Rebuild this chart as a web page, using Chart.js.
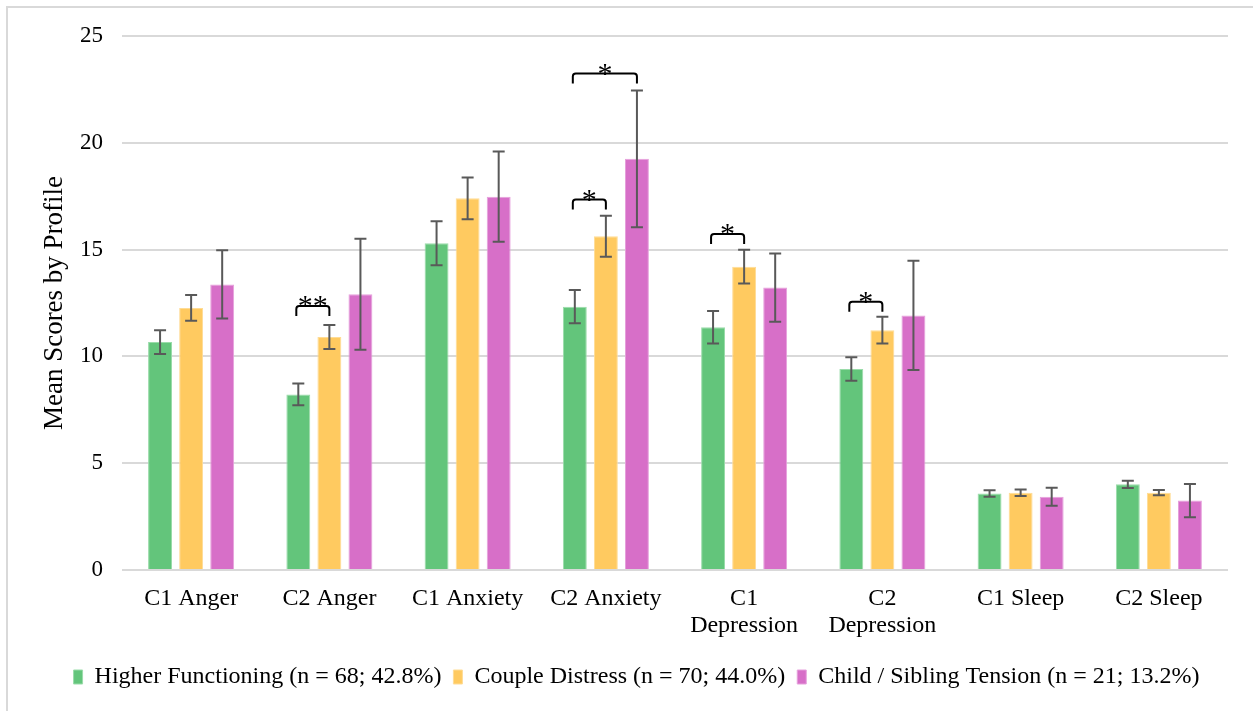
<!DOCTYPE html>
<html>
<head>
<meta charset="utf-8">
<script src="https://cdn.jsdelivr.net/npm/chart.js@4.4.1/dist/chart.umd.min.js"></script>
<style>
  html, body { margin: 0; padding: 0; background: #ffffff; }
  #wrap { position: relative; width: 1253px; height: 711px; }
</style>
</head>
<body>
<div id="wrap"><canvas id="c" width="1253" height="711"></canvas></div>
<script>
// Outcome measures (categories)
const categories = [
  'C1 Anger', 'C2 Anger', 'C1 Anxiety', 'C2 Anxiety',
  ['C1', 'Depression'], ['C2', 'Depression'], 'C1 Sleep', 'C2 Sleep'
];

// Profile means and error bar half-widths
const higherFunctioning    = [10.67, 8.22, 15.30, 12.33, 11.36, 9.41, 3.58, 4.01];
const higherFunctioningErr = [0.56, 0.51, 1.03, 0.78, 0.76, 0.55, 0.15, 0.17];
const coupleDistress       = [12.27, 10.91, 17.40, 15.63, 14.20, 11.23, 3.62, 3.62];
const coupleDistressErr    = [0.60, 0.56, 0.98, 0.96, 0.79, 0.63, 0.15, 0.12];
const childSibling         = [13.37, 12.91, 17.48, 19.25, 13.22, 11.92, 3.43, 3.25];
const childSiblingErr      = [1.60, 2.60, 2.11, 3.20, 1.60, 2.56, 0.42, 0.78];

const seriesNames = [
  'Higher Functioning (n = 68; 42.8%)',
  'Couple Distress (n = 70; 44.0%)',
  'Child / Sibling Tension (n = 21; 13.2%)'
];

// Y axis ticks
const yTicks = [0, 5, 10, 15, 20, 25];

// Significance brackets: category index, first / second series index, bracket height (score units), marker
const sigCategory = [1, 3, 3, 4, 5];
const sigFrom     = [0, 0, 0, 0, 0];
const sigTo       = [1, 1, 2, 1, 1];
const sigLevel    = [12.36, 17.34, 23.24, 15.73, 12.56];
const sigText     = ['**', '*', '*', '*', '*'];

const FONT = '"Liberation Serif", "Times New Roman", serif';
const errors = [higherFunctioningErr, coupleDistressErr, childSiblingErr];

const frame = {
  id: 'frame',
  beforeDraw(chart) {
    const ctx = chart.ctx;
    ctx.save();
    ctx.fillStyle = '#ffffff';
    ctx.fillRect(0, 0, chart.width, chart.height);
    ctx.strokeStyle = '#d9d9d9';
    ctx.lineWidth = 2;
    ctx.beginPath();
    ctx.moveTo(7, chart.height);
    ctx.lineTo(7, 7);
    ctx.lineTo(chart.width, 7);
    ctx.stroke();
    ctx.restore();
  }
};

const errorBars = {
  id: 'errorBars',
  afterDatasetsDraw(chart) {
    const ctx = chart.ctx;
    const y = chart.scales.y;
    ctx.save();
    ctx.strokeStyle = '#595959';
    ctx.lineWidth = 2;
    chart.data.datasets.forEach((ds, i) => {
      const meta = chart.getDatasetMeta(i);
      meta.data.forEach((bar, j) => {
        const v = ds.data[j], e = errors[i][j];
        const yHi = y.getPixelForValue(v + e);
        const yLo = y.getPixelForValue(v - e);
        const cap = 6;
        ctx.beginPath();
        ctx.moveTo(bar.x, yHi); ctx.lineTo(bar.x, yLo);
        ctx.moveTo(bar.x - cap, yHi); ctx.lineTo(bar.x + cap, yHi);
        ctx.moveTo(bar.x - cap, yLo); ctx.lineTo(bar.x + cap, yLo);
        ctx.stroke();
      });
    });
    ctx.restore();
  }
};

const brackets = {
  id: 'brackets',
  afterDatasetsDraw(chart) {
    const ctx = chart.ctx;
    const y = chart.scales.y;
    ctx.save();
    ctx.strokeStyle = '#000000';
    ctx.fillStyle = '#000000';
    ctx.lineWidth = 2;
    ctx.font = '30px ' + FONT;
    ctx.textAlign = 'center';
    ctx.textBaseline = 'alphabetic';
    sigCategory.forEach((c, k) => {
      const x1 = chart.getDatasetMeta(sigFrom[k]).data[c].x - 2;
      const x2 = chart.getDatasetMeta(sigTo[k]).data[c].x;
      const top = y.getPixelForValue(sigLevel[k]);
      const drop = 10;
      ctx.beginPath();
      ctx.moveTo(x1, top + drop);
      ctx.arcTo(x1, top, x2, top, 3);
      ctx.arcTo(x2, top, x2, top + drop, 3);
      ctx.lineTo(x2, top + drop);
      ctx.stroke();
      ctx.fillText(sigText[k], (x1 + x2) / 2, top + 9);
    });
    ctx.restore();
  }
};

const makeSet = (label, data, fill, edge) => ({
  label, data,
  backgroundColor: fill,
  borderColor: edge,
  borderWidth: 1,
  categoryPercentage: 0.674,
  barPercentage: 0.77
});

new Chart(document.getElementById('c'), {
  type: 'bar',
  data: {
    labels: categories,
    datasets: [
      makeSet(seriesNames[0], higherFunctioning, '#63c57b', '#9adcaa'),
      makeSet(seriesNames[1], coupleDistress, '#ffca60', '#ffdc95'),
      makeSet(seriesNames[2], childSibling, '#d76fc8', '#e6a0dc')
    ]
  },
  options: {
    responsive: false,
    animation: false,
    devicePixelRatio: 1,
    layout: { padding: { top: 36, left: 45, right: 25, bottom: 12 } },
    plugins: {
      legend: {
        position: 'bottom',
        labels: {
          font: { family: FONT, size: 24 },
          color: '#000000',
          boxWidth: 9,
          boxHeight: 14,
          padding: 12,
          useBorderRadius: false
        }
      },
      tooltip: { enabled: false }
    },
    scales: {
      x: {
        grid: { display: false },
        border: { display: false },
        ticks: {
          font: { family: FONT, size: 24, lineHeight: 1.1 },
          color: '#000000',
          padding: 8,
          maxRotation: 0,
          autoSkip: false
        },
        afterFit(scale) { scale.height = 83; }
      },
      y: {
        min: 0, max: 25,
        afterBuildTicks(scale) { scale.ticks = yTicks.map(v => ({ value: v })); },
        grid: { color: '#d9d9d9', lineWidth: 2, drawTicks: false },
        border: { display: false },
        ticks: {
          font: { family: FONT, size: 23 },
          color: '#000000',
          padding: 19
        },
        title: {
          display: true,
          text: 'Mean Scores by Profile',
          font: { family: FONT, size: 27 },
          color: '#000000',
          padding: { top: -6, bottom: 0 }
        },
        afterFit(scale) { scale.width = 77; }
      }
    }
  },
  plugins: [frame, errorBars, brackets]
});
</script>
</body>
</html>
